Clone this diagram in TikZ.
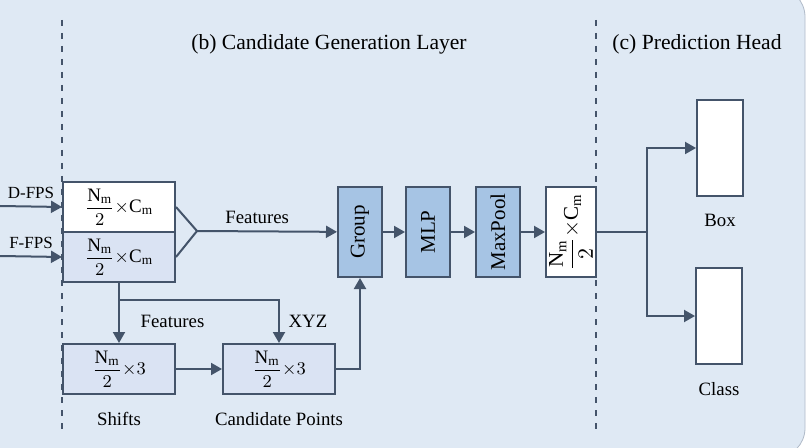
\documentclass[tikz,border=0pt]{standalone}
\usepackage{amsmath}
\usepackage{fontspec}
\setmainfont{Liberation Serif}
\usepackage{tikz}
\usetikzlibrary{positioning, arrows.meta, calc}
\definecolor{panelBg}{RGB}{223,233,244}
\definecolor{panelEdge}{RGB}{176,186,200}
\definecolor{lineGray}{RGB}{68,84,106}
\definecolor{featFill}{RGB}{218,227,243}
\definecolor{stageFill}{RGB}{166,196,228}
\tikzset{
    feat/.style={rectangle, draw=lineGray, line width=1pt, fill=featFill, minimum width=56pt, minimum height=25pt, inner sep=0pt, font=\fontsize{9.5}{11}\selectfont},
    stage/.style={rectangle, draw=lineGray, line width=1pt, fill=stageFill, minimum width=22pt, minimum height=45pt, inner sep=0pt, font=\fontsize{10.5}{12}\selectfont},
    outbox/.style={rectangle, draw=lineGray, line width=1pt, fill=white, minimum width=23pt, minimum height=48pt},
    divider/.style={draw=lineGray, line width=0.7pt, dash pattern=on 3pt off 3.5pt},
    conn/.style={draw=lineGray, line width=1pt},
    arrow/.style={-{Triangle[length=5.5pt, width=6pt]}, draw=lineGray, line width=1pt},
    note/.style={font=\fontsize{9.4}{11}\selectfont, align=center},
    heading/.style={font=\fontsize{10.8}{13}\selectfont}
}

\begin{document}
\begin{tikzpicture}[x=0.5pt, y=-0.5pt]
        \useasboundingbox (0,0) rectangle (806,448);
        \clip (0,0) rectangle (806,448);

        % Panel and dividers
        \draw[panelEdge, fill=panelBg, rounded corners=15pt] (-40,-13) rectangle (805,458);
        \draw[divider] (62,20) -- (62,432);
        \draw[divider] (596,20) -- (596,432);
        \node[heading] (TitleB) at (329,44) {(b) Candidate Generation Layer};
        \node[heading] (TitleC) at (697,44) {(c) Prediction Head};

        % Sampled features
        \node[feat, fill=white, anchor=north west] (DFeat) at (62,181) {$\dfrac{\mathrm{N_m}}{2}{\times}\mathrm{C_m}$};
        \node[feat, below=-1pt of DFeat] (FFeat) {$\dfrac{\mathrm{N_m}}{2}{\times}\mathrm{C_m}$};

        % Shifts and candidates
        \node[feat, below=30pt of FFeat] (Shift) {$\dfrac{\mathrm{N_m}}{2}{\times}3$};
        \node[feat, right=23pt of Shift] (Cand) {$\dfrac{\mathrm{N_m}}{2}{\times}3$};
        \node[note, below=5pt of Shift] (ShiftLbl) {Shifts};
        \node[note, below=5pt of Cand] (CandLbl) {Candidate Points};

        % Grouping stages
        \node[stage] (Group) at (360,232) {\rotatebox{90}{Group}};
        \node[stage, right=11pt of Group] (MLP) {\rotatebox{90}{MLP}};
        \node[stage, right=12pt of MLP] (Pool) {\rotatebox{90}{MaxPool}};
        \node[stage, fill=white, minimum width=25pt, right=12pt of Pool] (Out) {\rotatebox{90}{$\dfrac{\mathrm{N_m}}{2}{\times}\mathrm{C_m}$}};

        % Prediction heads
        \node[outbox] (BoxHead) at (720,148) {};
        \node[outbox] (ClassHead) at (719,316) {};
        \node[note, below=5pt of BoxHead] (BoxLbl) {Box};
        \node[note, below=5pt of ClassHead] (ClassLbl) {Class};

        % Edges
        \coordinate (DIn) at (0,206);
        \coordinate (FIn) at (0,256);
        \draw[arrow] (DIn) -- (DFeat.west) node[midway, above, font=\fontsize{8.5}{10}\selectfont] {D-FPS};
        \draw[arrow] (FIn) -- (FFeat.west) node[midway, above, font=\fontsize{8.5}{10}\selectfont] {F-FPS};

        \coordinate (Merge) at (197,231);
        \draw[conn] (DFeat.east) -- (Merge) -- (FFeat.east);
        \draw[arrow] (Merge) -- (Group) node[note, pos=0.43, above] {Features};

        \coordinate[below=8.5pt of FFeat] (Split);
        \draw[conn] (FFeat.south) -- (Split);
        \draw[arrow] (Split) -- (Shift) node[note, midway, right=7pt] {Features};
        \draw[arrow] (Split) -| (Cand) node[note, pos=0.75, right=1pt] {XYZ};
        \draw[arrow] (Shift) -- (Cand);
        \draw[arrow] (Cand) -| (Group);

        \draw[arrow] (Group) -- (MLP);
        \draw[arrow] (MLP) -- (Pool);
        \draw[arrow] (Pool) -- (Out);

        \coordinate (Branch) at (647,232);
        \draw[conn] (Out) -- (Branch);
        \draw[arrow] (Branch) |- (BoxHead);
        \draw[arrow] (Branch) |- (ClassHead);

    \end{tikzpicture}
\end{document}
